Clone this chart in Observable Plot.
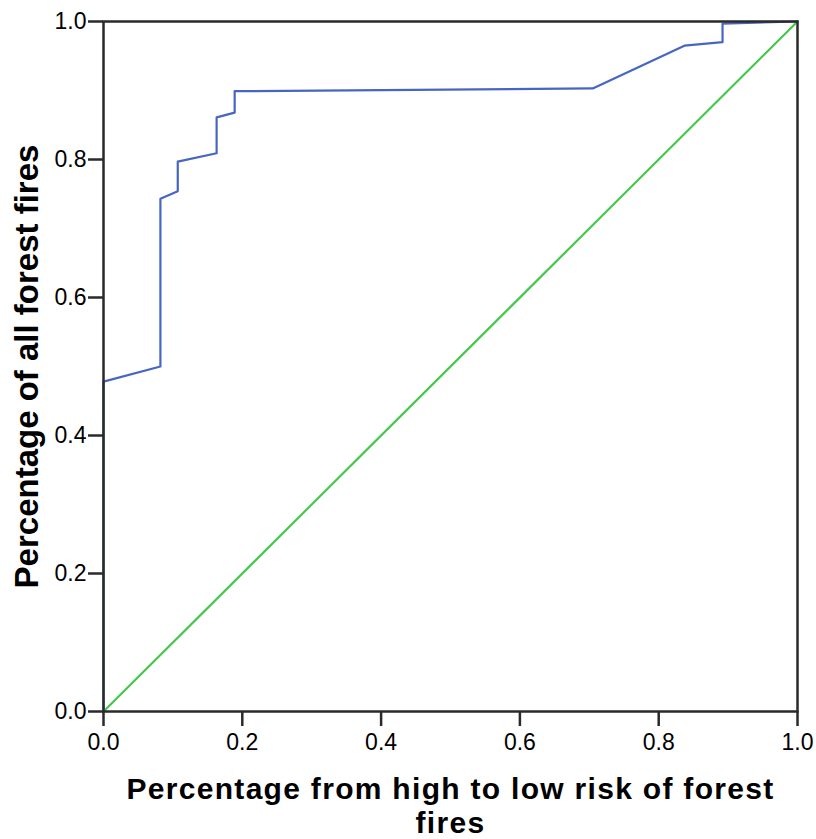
<!DOCTYPE html>
<html>
<head>
<meta charset="utf-8">
<script src="https://cdn.jsdelivr.net/npm/d3@7"></script>
<script src="https://cdn.jsdelivr.net/npm/@observablehq/plot@0.6"></script>
<style>
  html, body { margin: 0; padding: 0; background: #fff; }
  #chart svg { display: block; }
  .xtitle text { letter-spacing: 1.3px; }
</style>
</head>
<body>
<div id="chart"></div>
<script>
// ROC curve points (false positive share, sensitivity)
const rocX = [0, 0, 0.082, 0.082, 0.107, 0.107, 0.163, 0.163, 0.189, 0.189, 0.705, 0.837, 0.892, 0.892, 1.0];
const rocY = [0, 0.478, 0.500, 0.743, 0.754, 0.797, 0.809, 0.861, 0.868, 0.899, 0.903, 0.965, 0.970, 0.997, 1.0];
// Reference diagonal
const refX = [0, 1];
const refY = [0, 1];
const tickValues = [0, 0.2, 0.4, 0.6, 0.8, 1.0];
const xLabel = "Percentage from high to low risk of forest\nfires";
const yLabel = "Percentage of all forest fires";

const roc = rocX.map((x, i) => ({x, y: rocY[i]}));
const ref = refX.map((x, i) => ({x, y: refY[i]}));

const chart = Plot.plot({
  width: 816,
  height: 839,
  marginLeft: 103,
  marginRight: 19,
  marginTop: 21,
  marginBottom: 128,
  style: {fontFamily: "'Liberation Sans', Arial, sans-serif", fontSize: "23px", color: "#000", background: "#fff"},
  x: {domain: [0, 1], ticks: tickValues, tickFormat: d3.format(".1f"), label: null},
  y: {domain: [0, 1], ticks: tickValues, tickFormat: d3.format(".1f"), label: null},
  marks: [
    Plot.line(ref, {x: "x", y: "y", stroke: "#46c84c", strokeWidth: 2.2}),
    Plot.line(roc, {x: "x", y: "y", stroke: "#4766c2", strokeWidth: 2.2}),
    Plot.frame({stroke: "#2a2a2a", strokeWidth: 2.5}),
    Plot.axisX({ticks: tickValues, tickFormat: d3.format(".1f"), tickSize: 15, tickPadding: 7, strokeWidth: 2.5, stroke: "#2a2a2a", fontSize: 23, label: null}),
    Plot.axisY({ticks: tickValues, tickFormat: d3.format(".1f"), tickSize: 15, tickPadding: 2, strokeWidth: 2.5, stroke: "#2a2a2a", fontSize: 23, label: null}),
    Plot.text([xLabel], {className: "xtitle", frameAnchor: "bottom", dy: 64, lineAnchor: "top", text: d => d, fontSize: 30, fontWeight: "bold", lineHeight: 1.12, textAnchor: "middle"}),
    Plot.text([yLabel], {frameAnchor: "left", dx: -76, rotate: -90, text: d => d, fontSize: 33, fontWeight: "bold", textAnchor: "middle"})
  ]
});
document.getElementById("chart").appendChild(chart);
</script>
</body>
</html>
